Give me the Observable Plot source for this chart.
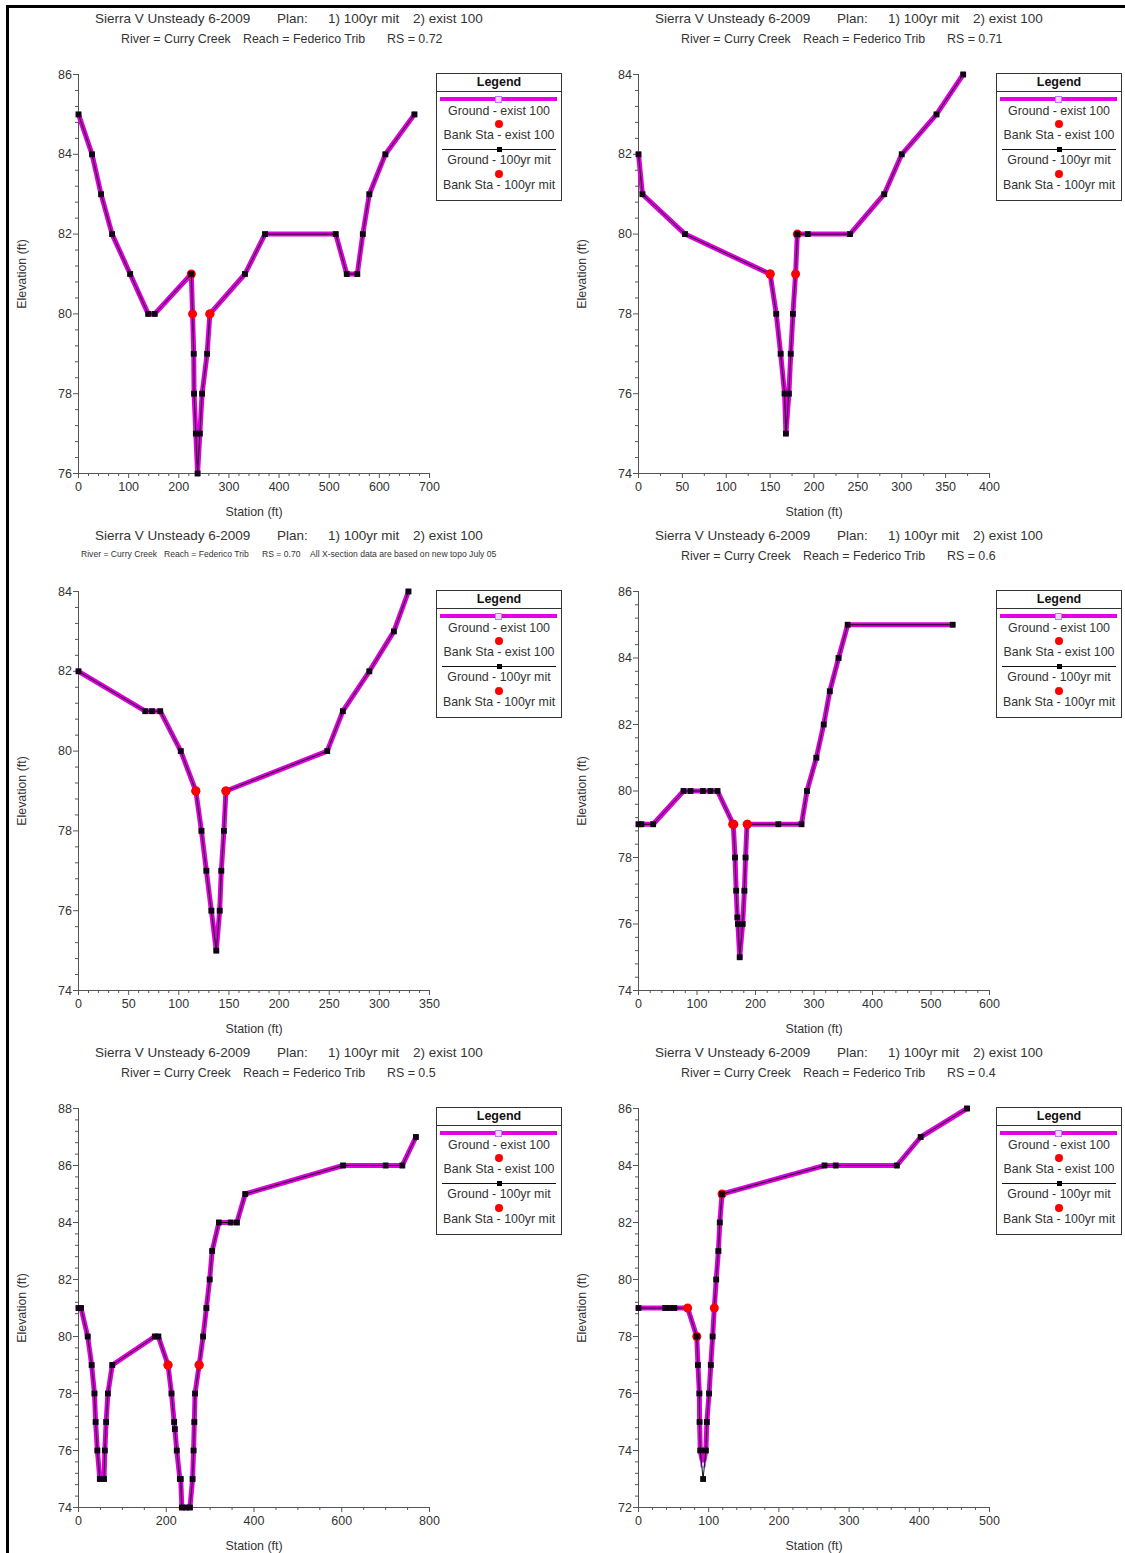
<!DOCTYPE html>
<html>
<head>
<meta charset="utf-8">
<script src="https://cdn.jsdelivr.net/npm/d3@7"></script>
<script src="https://cdn.jsdelivr.net/npm/@observablehq/plot@0.6"></script>
<style>
html,body{margin:0;padding:0;background:#fff;}
#page{position:relative;width:1125px;height:1553px;overflow:hidden;background:#fff;font-family:"Liberation Sans",Arial,sans-serif;color:#333;}
.panel{position:absolute;width:560px;height:517px;}
.panel svg{position:absolute;left:0;top:0;}
.seg{position:absolute;white-space:pre;line-height:1;transform:translateY(-50%);color:#333;}
.legend{position:absolute;left:436px;top:73px;width:124px;height:126px;border:1px solid #333;background:#fff;}
.legend .lt{position:absolute;left:0;width:100%;text-align:center;white-space:pre;line-height:1;transform:translateY(-50%);font-size:12.4px;color:#333;}
.legend .hd{font-weight:bold;font-size:12.5px;color:#111;}
.legend .sep{position:absolute;left:0;width:100%;height:1px;background:#333;}
.legend .mag{position:absolute;left:3px;width:117px;height:4px;background:#e600e6;}
.legend .hsq{position:absolute;width:5px;height:5px;border:1px solid #b47cff;background:#f2d6ff;}
.legend .blk{position:absolute;left:5px;width:114px;height:1px;background:#111;}
.legend .bsq{position:absolute;width:5px;height:5px;background:#000;}
.legend .red{position:absolute;width:8px;height:8px;border-radius:50%;background:#ff0000;}
.btop{position:absolute;left:6px;top:5px;width:1119px;height:3px;background:#000;z-index:5;}
.bleft{position:absolute;left:6px;top:5px;width:3px;height:1548px;background:#000;z-index:5;}
</style>
</head>
<body>
<div id="page"></div>
<script>
// ---------------- data ----------------
const rsValues = ["0.72", "0.71", "0.70", "0.6", "0.5", "0.4"];
const planTitle = ["Sierra V Unsteady 6-2009", "Plan:", "1) 100yr mit", "2) exist 100"];
const legendLabels = ["Ground - exist 100", "Bank Sta - exist 100", "Ground - 100yr mit", "Bank Sta - 100yr mit"];
const noteText = "All X-section data are based on new topo July 05";

// RS 0.72
const sta072 = [0, 27, 45, 67, 103, 139, 152, 225, 227.5, 229.8, 230.5, 234, 237.5, 242, 246.5, 256.5, 262, 332, 372, 513, 535, 556, 567, 580, 612, 670];
const elev072 = [85, 84, 83, 82, 81, 80, 80, 81, 80, 79, 78, 77, 76, 77, 78, 79, 80, 81, 82, 82, 81, 81, 82, 83, 84, 85];
const bankExist072Sta = [225, 262];
const bankExist072Elev = [81, 80];
const bankMit072Sta = [227.5, 262];
const bankMit072Elev = [80, 80];

// RS 0.71
const sta071 = [0, 4.5, 53, 150, 157, 162, 166.5, 168, 171.4, 173.5, 176, 179, 181, 193, 241, 280, 300, 339.6, 370];
const elev071 = [82, 81, 80, 79, 78, 77, 76, 75, 76, 77, 78, 79, 80, 80, 80, 81, 82, 83, 84];
const bankExist071Sta = [150, 181];
const bankExist071Elev = [79, 80];
const bankMit071Sta = [150, 179];
const bankMit071Elev = [79, 79];

// RS 0.70
const sta070 = [0, 66.6, 73.3, 81.5, 102, 117, 122.6, 127.5, 132.5, 137.4, 140.8, 142.4, 145, 147, 248, 263.6, 290, 314.5, 329];
const elev070 = [82, 81, 81, 81, 80, 79, 78, 77, 76, 75, 76, 77, 78, 79, 80, 81, 82, 83, 84];
const bankExist070Sta = [117, 147];
const bankExist070Elev = [79, 79];
const bankMit070Sta = [117, 147];
const bankMit070Elev = [79, 79];

// RS 0.6
const sta06 = [0, 5, 25, 77, 89, 110, 123, 135, 162, 165, 167, 169, 170, 173, 178, 181, 183, 185.5, 239, 278.6, 288, 304, 316.6, 327, 342, 357.6, 537];
const elev06 = [79, 79, 79, 80, 80, 80, 80, 80, 79, 78, 77, 76.2, 76, 75, 76, 77, 78, 79, 79, 79, 80, 81, 82, 83, 84, 85, 85];
const bankExist06Sta = [161, 186];
const bankExist06Elev = [79, 79];
const bankMit06Sta = [163, 186];
const bankMit06Elev = [79, 79];

// RS 0.5
const sta05 = [0, 5.7, 21, 30, 36.4, 39, 43, 48.6, 58.3, 60, 63, 67, 77, 174, 182, 204, 212, 218, 219.6, 224, 231, 233, 235.6, 245, 254, 260, 262.3, 264, 265.6, 275, 284, 291.5, 299, 304.6, 320, 346.6, 361, 380, 603, 700, 738, 769];
const elev05 = [81, 81, 80, 79, 78, 77, 76, 75, 75, 76, 77, 78, 79, 80, 80, 79, 78, 77, 76.75, 76, 75, 75, 74, 74, 74, 75, 76, 77, 78, 79, 80, 81, 82, 83, 84, 84, 84, 85, 86, 86, 86, 87];
const bankExist05Sta = [204, 275];
const bankExist05Elev = [79, 79];
const bankMit05Sta = [204, 275];
const bankMit05Elev = [79, 79];

// RS 0.4
const sta04 = [0, 38, 45, 51, 70, 83, 84.7, 86.7, 87, 88, 92, 96, 97.4, 100.5, 103, 105.6, 108, 110.7, 113.8, 115.8, 119, 265, 281, 368, 402, 468];
const elevExist04 = [79, 79, 79, 79, 79, 78, 77, 76, 75, 74, 73.5, 74, 75, 76, 77, 78, 79, 80, 81, 82, 83, 84, 84, 84, 85, 86];
const elevMit04 = [79, 79, 79, 79, 79, 78, 77, 76, 75, 74, 73, 74, 75, 76, 77, 78, 79, 80, 81, 82, 83, 84, 84, 84, 85, 86];
const bankExist04Sta = [83, 119];
const bankExist04Elev = [78, 83];
const bankMit04Sta = [70, 108];
const bankMit04Elev = [79, 79];

// ---------------- panel setup ----------------
const panels = [
  {rs: rsValues[0], col: 0, row: 0, exS: sta072, exE: elev072, miS: sta072, miE: elev072, beS: bankExist072Sta, beE: bankExist072Elev, bmS: bankMit072Sta, bmE: bankMit072Elev, xd: [0, 700], xM: 100, xm: 20, yd: [76, 86]},
  {rs: rsValues[1], col: 1, row: 0, exS: sta071, exE: elev071, miS: sta071, miE: elev071, beS: bankExist071Sta, beE: bankExist071Elev, bmS: bankMit071Sta, bmE: bankMit071Elev, xd: [0, 400], xM: 50, xm: 25, yd: [74, 84]},
  {rs: rsValues[2], col: 0, row: 1, exS: sta070, exE: elev070, miS: sta070, miE: elev070, beS: bankExist070Sta, beE: bankExist070Elev, bmS: bankMit070Sta, bmE: bankMit070Elev, xd: [0, 350], xM: 50, xm: 10, yd: [74, 84], small: true},
  {rs: rsValues[3], col: 1, row: 1, exS: sta06, exE: elev06, miS: sta06, miE: elev06, beS: bankExist06Sta, beE: bankExist06Elev, bmS: bankMit06Sta, bmE: bankMit06Elev, xd: [0, 600], xM: 100, xm: 20, yd: [74, 86]},
  {rs: rsValues[4], col: 0, row: 2, exS: sta05, exE: elev05, miS: sta05, miE: elev05, beS: bankExist05Sta, beE: bankExist05Elev, bmS: bankMit05Sta, bmE: bankMit05Elev, xd: [0, 800], xM: 200, xm: 50, yd: [74, 88]},
  {rs: rsValues[5], col: 1, row: 2, exS: sta04, exE: elevExist04, miS: sta04, miE: elevMit04, beS: bankExist04Sta, beE: bankExist04Elev, bmS: bankMit04Sta, bmE: bankMit04Elev, xd: [0, 500], xM: 100, xm: 20, yd: [72, 86]}
];

const zip = (s, e) => s.map((v, i) => ({x: v, y: e[i]}));
const axisColor = "#555";
const font = "Liberation Sans, Arial, sans-serif";

function makePlot(p) {
  const [x0, x1] = p.xd, [y0, y1] = p.yd;
  const xMajor = d3.range(0, Math.round((x1 - x0) / p.xM) + 1).map(i => x0 + i * p.xM);
  const xMinor = d3.range(0, Math.round((x1 - x0) / p.xm) + 1).map(i => x0 + i * p.xm).filter(v => !xMajor.includes(v));
  const yMajor = d3.range(0, Math.round((y1 - y0) / 2) + 1).map(i => y0 + i * 2);
  const yMinor = d3.range(0, Math.round((y1 - y0) / 0.4) + 1).map(i => +(y0 + i * 0.4).toFixed(3)).filter(v => !yMajor.includes(v));
  const exist = zip(p.exS, p.exE), mit = zip(p.miS, p.miE);
  const bankE = zip(p.beS, p.beE), bankM = zip(p.bmS, p.bmE);
  return Plot.plot({
    width: 560, height: 517,
    marginLeft: 78, marginRight: 131, marginTop: 74, marginBottom: 44,
    x: {domain: p.xd, label: null},
    y: {domain: p.yd, label: null},
    style: {fontFamily: font, fontSize: "12.5px", color: "#333", background: "transparent", overflow: "visible"},
    marks: [
      Plot.axisX({ticks: xMajor, tickSize: 5, tickPadding: 4, stroke: axisColor, label: null, tickFormat: d => String(d)}),
      Plot.axisX({ticks: xMinor, tickSize: 3, stroke: axisColor, fill: "none", label: null}),
      Plot.axisY({ticks: yMajor, tickSize: 5, tickPadding: 1.5, stroke: axisColor, label: null, tickFormat: d => String(d)}),
      Plot.axisY({ticks: yMinor, tickSize: 3, stroke: axisColor, fill: "none", label: null}),
      Plot.ruleY([y0], {stroke: axisColor}),
      Plot.ruleX([x0], {stroke: axisColor}),
      Plot.line(exist, {x: "x", y: "y", stroke: "#dd00dd", strokeWidth: 5, strokeLinejoin: "round", strokeLinecap: "round"}),
      Plot.dot(exist, {x: "x", y: "y", symbol: "square", r: 2.6, stroke: "#b47cff", fill: "#f2d6ff", strokeWidth: 1}),
      Plot.dot(bankE, {x: "x", y: "y", r: 4.5, fill: "#ff0000", stroke: "none"}),
      Plot.line(mit, {x: "x", y: "y", stroke: "#111", strokeWidth: 1}),
      Plot.dot(mit, {x: "x", y: "y", symbol: "square", r: 3.3, fill: "#120414", stroke: "none"}),
      Plot.dot(bankM, {x: "x", y: "y", r: 4.5, fill: "#ff0000", stroke: "none"}),
      Plot.text(["Station (ft)"], {frameAnchor: "bottom", dy: 39, textAnchor: "middle", lineAnchor: "middle", fontSize: 12.4, fill: "#333"}),
      Plot.text(["Elevation (ft)"], {frameAnchor: "left", dx: -56, rotate: -90, textAnchor: "middle", lineAnchor: "middle", fontSize: 12.4, fill: "#333"})
    ]
  });
}

function seg(parent, text, left, y, size) {
  const s = document.createElement("div");
  s.className = "seg";
  s.textContent = text;
  s.style.left = left + "px";
  s.style.top = y + "px";
  s.style.fontSize = size + "px";
  parent.appendChild(s);
  return s;
}

function makeLegend(parent) {
  const L = document.createElement("div");
  L.className = "legend";
  const add = (cls, css, text) => {
    const d = document.createElement("div");
    d.className = cls;
    Object.assign(d.style, css);
    if (text !== undefined) d.textContent = text;
    L.appendChild(d);
  };
  add("lt hd", {top: "8px"}, "Legend");
  add("sep", {top: "16.5px"});
  add("mag", {top: "23px"});
  add("hsq", {top: "21.5px", left: "58px"});
  add("lt", {top: "36.5px"}, legendLabels[0]);
  add("red", {top: "45.5px", left: "58px"});
  add("lt", {top: "61px"}, legendLabels[1]);
  add("blk", {top: "75px"});
  add("bsq", {top: "73px", left: "59.5px"});
  add("lt", {top: "86px"}, legendLabels[2]);
  add("red", {top: "96px", left: "58px"});
  add("lt", {top: "111px"}, legendLabels[3]);
  parent.appendChild(L);
}

const page = document.getElementById("page");
for (const p of panels) {
  const div = document.createElement("div");
  div.className = "panel";
  div.style.left = (p.col * 560) + "px";
  div.style.top = (p.row * 517) + "px";
  page.appendChild(div);
  div.appendChild(makePlot(p));
  // title
  seg(div, planTitle[0], 95, 19, 13.5);
  seg(div, planTitle[1], 277, 19, 13.5);
  seg(div, planTitle[2], 328, 19, 13.5);
  seg(div, planTitle[3], 413, 19, 13.5);
  // subtitle
  if (p.small) {
    seg(div, "River = Curry Creek", 81, 36.5, 8.6);
    seg(div, "Reach = Federico Trib", 164, 36.5, 8.6);
    seg(div, "RS = " + p.rs, 262, 36.5, 8.6);
    seg(div, noteText, 310, 36.5, 8.6);
  } else {
    seg(div, "River = Curry Creek", 121, 38.7, 12.4);
    seg(div, "Reach = Federico Trib", 243, 38.7, 12.4);
    seg(div, "RS = " + p.rs, 387, 38.7, 12.4);
  }
  makeLegend(div);
}
const bt = document.createElement("div"); bt.className = "btop"; page.appendChild(bt);
const bl = document.createElement("div"); bl.className = "bleft"; page.appendChild(bl);
</script>
</body>
</html>
